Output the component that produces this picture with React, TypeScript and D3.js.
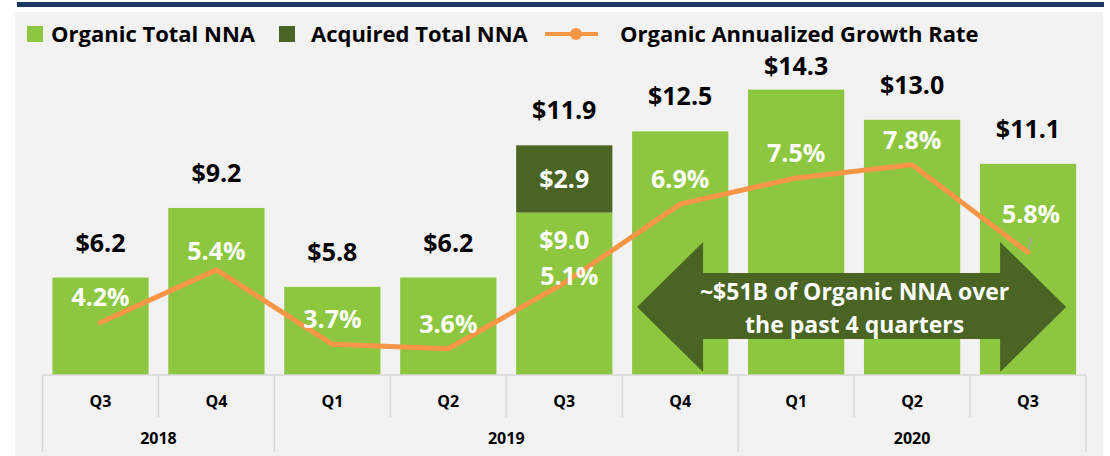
import React, { useRef, useEffect } from "react";
import * as d3 from "d3";

const quarterLabels = ["Q3", "Q4", "Q1", "Q2", "Q3", "Q4", "Q1", "Q2", "Q3"];
const yearOf = ["2018", "2018", "2019", "2019", "2019", "2019", "2020", "2020", "2020"];
const organicNNA = [6.2, 9.2, 5.8, 6.2, 9.0, 12.5, 14.3, 13.0, 11.1];
const acquiredNNA = [0, 0, 0, 0, 2.9, 0, 0, 0, 0];
const growthRate = [4.2, 5.4, 3.7, 3.6, 5.1, 6.9, 7.5, 7.8, 5.8];

const FONT = "'Open Sans', sans-serif";
const GREEN = "#8dc63f";
const DARK = "#4a6423";
const ORANGE = "#f79646";

const App = () => {
  const svgRef = useRef<SVGSVGElement>(null);

  useEffect(() => {
    const svg = d3.select(svgRef.current);
    svg.selectAll("*").remove();
    const width = 1110;
    const height = 456;
    const base = 375;

    svg.attr("width", width).attr("height", height);

    // frame
    svg.append("rect").attr("x", 17).attr("y", 2).attr("width", 1087).attr("height", 5).attr("fill", "#1c3864");
    svg.append("rect").attr("x", 15).attr("y", 12).attr("width", 1088).attr("height", height - 12).attr("fill", "#f2f2f2");

    const cats = quarterLabels.map((q, i) => `${yearOf[i]} ${q}`);
    const x = d3.scaleBand().domain(cats).range([42.5, 1086]).paddingInner(0.17).paddingOuter(0.085);
    const step = x.step();
    const left = (i: number) => 42.5 + i * step; // slot boundaries

    const y = d3.scaleLinear().domain([2, 16]).range([base, base - 14 * 23.2]);
    const y2 = d3.scaleLinear().domain([3, 10]).range([base, base - 7 * 43.8]);

    const cx = (i: number) => (x(cats[i]) as number) + x.bandwidth() / 2;

    // bars
    svg
      .selectAll(".organic")
      .data(organicNNA)
      .enter()
      .append("rect")
      .attr("x", (d, i) => x(cats[i]) as number)
      .attr("y", (d) => y(d))
      .attr("width", x.bandwidth())
      .attr("height", (d) => base - y(d))
      .attr("fill", GREEN);

    acquiredNNA.forEach((a, i) => {
      if (a <= 0) return;
      svg
        .append("rect")
        .attr("x", x(cats[i]) as number)
        .attr("y", y(organicNNA[i] + a))
        .attr("width", x.bandwidth())
        .attr("height", y(organicNNA[i]) - y(organicNNA[i] + a))
        .attr("fill", DARK);
    });

    // category axis
    const axis = svg.append("g").attr("stroke", "#d9d9d9").attr("stroke-width", 1.5);
    axis.append("line").attr("x1", 42.5).attr("x2", 1086).attr("y1", base).attr("y2", base);
    const yearStarts = cats.map((c, i) => i === 0 || yearOf[i] !== yearOf[i - 1]);
    for (let i = 0; i <= cats.length; i++) {
      const full = i === cats.length || yearStarts[i];
      axis.append("line").attr("x1", left(i)).attr("x2", left(i)).attr("y1", base).attr("y2", full ? 452 : 417);
    }

    svg
      .append("g")
      .selectAll("text")
      .data(quarterLabels)
      .enter()
      .append("text")
      .attr("x", (d, i) => cx(i))
      .attr("y", 407)
      .attr("text-anchor", "middle")
      .style("font", `bold 16px ${FONT}`)
      .text((d) => d);

    const years = Array.from(new Set(yearOf));
    svg
      .append("g")
      .selectAll("text")
      .data(years)
      .enter()
      .append("text")
      .attr("x", (d) => {
        const first = yearOf.indexOf(d);
        const last = yearOf.lastIndexOf(d);
        return (left(first) + left(last + 1)) / 2;
      })
      .attr("y", 444)
      .attr("text-anchor", "middle")
      .style("font", `bold 16px ${FONT}`)
      .text((d) => d);

    // big arrow annotation
    const aL = (x(cats[5]) as number) + 5;
    const aR = (x(cats[8]) as number) + x.bandwidth() - 10;
    const aY = 307;
    const head = 66;
    const arrow = d3.path();
    arrow.moveTo(aL, aY);
    arrow.lineTo(aL + head, aY - 65);
    arrow.lineTo(aL + head, aY - 34);
    arrow.lineTo(aR - head, aY - 34);
    arrow.lineTo(aR - head, aY - 65);
    arrow.lineTo(aR, aY);
    arrow.lineTo(aR - head, aY + 65);
    arrow.lineTo(aR - head, aY + 32);
    arrow.lineTo(aL + head, aY + 32);
    arrow.lineTo(aL + head, aY + 65);
    arrow.closePath();
    svg.append("path").attr("d", arrow.toString()).attr("fill", DARK);
    const arrowText = svg
      .append("text")
      .attr("text-anchor", "middle")
      .attr("fill", "#fff")
      .style("font", `bold 23px ${FONT}`);
    arrowText.append("tspan").attr("x", (aL + aR) / 2 + 3).attr("y", 300).text("~$51B of Organic NNA over");
    arrowText.append("tspan").attr("x", (aL + aR) / 2 + 3).attr("y", 333).text("the past 4 quarters");

    // growth line
    const line = d3
      .line<number>()
      .x((d, i) => cx(i))
      .y((d) => y2(d));
    svg
      .append("path")
      .datum(growthRate)
      .attr("d", line)
      .attr("fill", "none")
      .attr("stroke", ORANGE)
      .attr("stroke-width", 5)
      .attr("stroke-linecap", "round")
      .attr("stroke-linejoin", "round");

    // leader line for last rate label
    svg
      .append("line")
      .attr("x1", cx(8) + 3)
      .attr("y1", y2(growthRate[8]) - 15)
      .attr("x2", cx(8) + 1)
      .attr("y2", y2(growthRate[8]) - 3)
      .attr("stroke", "#a6a6a6")
      .attr("stroke-width", 1.5);

    // total labels
    const totalShift: Record<number, number> = { 6: 24 };
    svg
      .append("g")
      .selectAll("text")
      .data(organicNNA)
      .enter()
      .append("text")
      .attr("x", (d, i) => cx(i))
      .attr("y", (d, i) => y(d + acquiredNNA[i]) - (totalShift[i] ?? 35) + 9)
      .attr("text-anchor", "middle")
      .style("font", `bold 25px ${FONT}`)
      .attr("fill", "#000")
      .text((d, i) => `$${(d + acquiredNNA[i]).toFixed(1)}`);

    // segment labels for stacked bar
    acquiredNNA.forEach((a, i) => {
      if (a <= 0) return;
      svg
        .append("text")
        .attr("x", cx(i))
        .attr("y", (y(organicNNA[i]) + y(organicNNA[i] + a)) / 2 + 9)
        .attr("text-anchor", "middle")
        .attr("fill", "#fff")
        .style("font", `bold 25px ${FONT}`)
        .text(`$${a.toFixed(1)}`);
      svg
        .append("text")
        .attr("x", cx(i))
        .attr("y", y(organicNNA[i]) + 27 + 9)
        .attr("text-anchor", "middle")
        .attr("fill", "#fff")
        .style("font", `bold 25px ${FONT}`)
        .text(`$${organicNNA[i].toFixed(1)}`);
    });

    // rate labels
    const rateShift: Record<number, number> = { 1: 19, 4: 7, 8: 38 };
    svg
      .append("g")
      .selectAll("text")
      .data(growthRate)
      .enter()
      .append("text")
      .attr("x", (d, i) => cx(i) + (i === 4 ? 5 : i === 8 ? 3 : 0))
      .attr("y", (d, i) => y2(d) - (rateShift[i] ?? 25) + 9)
      .attr("text-anchor", "middle")
      .attr("fill", "#fff")
      .style("font", `bold 25px ${FONT}`)
      .text((d) => `${d.toFixed(1)}%`);

    // legend
    const legend = svg.append("g").style("font", `bold 22px ${FONT}`);
    legend.append("rect").attr("x", 27).attr("y", 26).attr("width", 16).attr("height", 16).attr("fill", GREEN);
    legend.append("text").attr("x", 51).attr("y", 42).text("Organic Total NNA");
    legend.append("rect").attr("x", 279).attr("y", 26).attr("width", 16).attr("height", 16).attr("fill", DARK);
    legend.append("text").attr("x", 311).attr("y", 42).text("Acquired Total NNA");
    legend.append("line").attr("x1", 545).attr("x2", 598).attr("y1", 34).attr("y2", 34).attr("stroke", ORANGE).attr("stroke-width", 4);
    legend.append("circle").attr("cx", 576).attr("cy", 34).attr("r", 6).attr("fill", ORANGE);
    legend.append("text").attr("x", 620).attr("y", 42).text("Organic Annualized Growth Rate");
  }, []);

  return (
    <div style={{ position: "absolute", left: 0, top: 0 }}>
      <svg ref={svgRef}></svg>
    </div>
  );
};

export default App;
